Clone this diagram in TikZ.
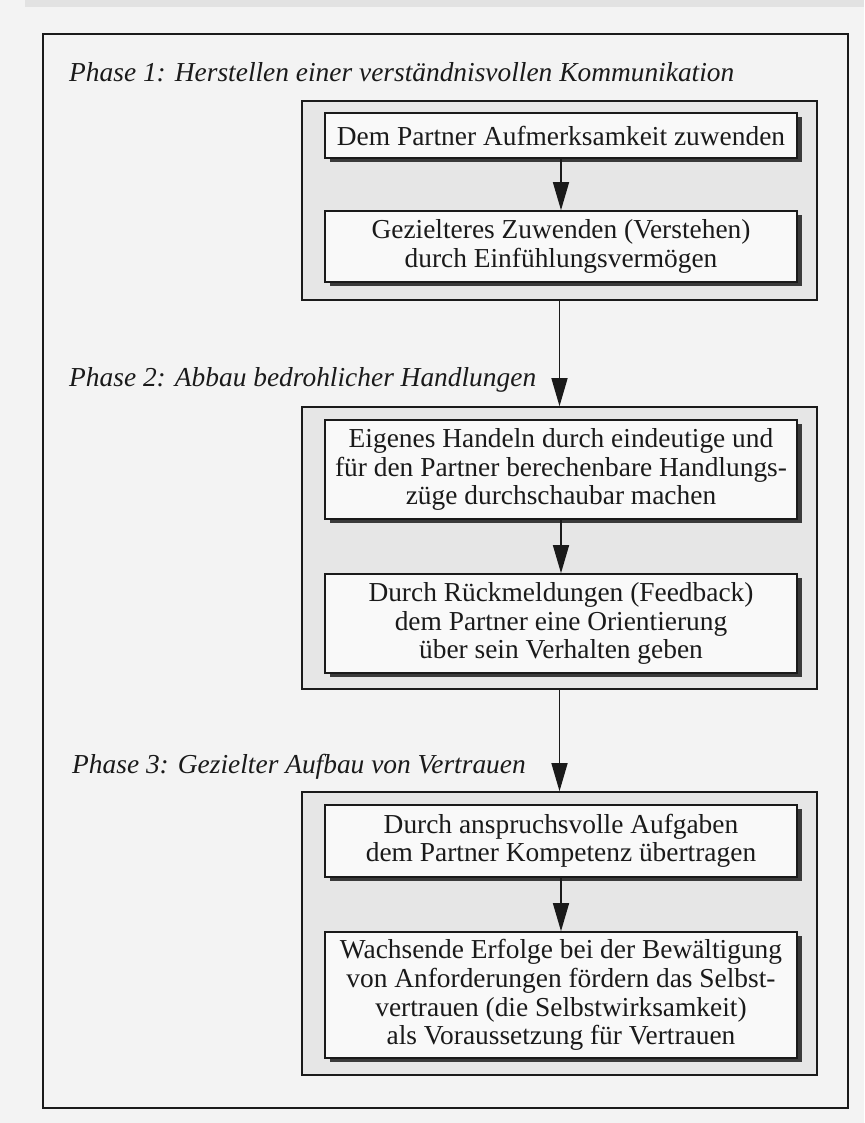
\documentclass[tikz,border=0pt]{standalone}
\usepackage{fontspec}
\setmainfont{Liberation Serif}
\usetikzlibrary{arrows.meta,shadows}
\definecolor{paper}{HTML}{F3F3F3}
\definecolor{grp}{HTML}{E6E6E6}
\definecolor{boxfill}{HTML}{F9F9F9}
\definecolor{ink}{HTML}{1A1A1A}
\definecolor{shade}{HTML}{3A3A3A}
\definecolor{scanedge}{HTML}{E2E2E2}
\begin{document}
\begin{tikzpicture}[x=1pt,y=-1pt,
  frame/.style={draw=ink,line width=1.8pt,minimum width=805pt,minimum height=1074pt,inner sep=0pt},
  group/.style={draw=ink,line width=1.6pt,fill=grp,minimum width=515pt,inner sep=0pt},
  stepbox/.style={draw=ink,line width=1.6pt,fill=boxfill,minimum width=472pt,inner sep=0pt,align=center,text=ink,
    font=\fontsize{27.4}{28.6}\selectfont,
    drop shadow={shadow xshift=5pt,shadow yshift=-4pt,fill=shade,opacity=1}},
  phase/.style={anchor=base west,inner sep=0pt,text=ink,font=\fontsize{27.4}{28.6}\selectfont\itshape},
  flow/.style={draw=ink,line width=1.4pt,-{Triangle[length=28pt,width=16pt]}}
]
\useasboundingbox (0,0) rectangle (864,1123);
\fill[paper] (0,0) rectangle (864,1123);
\fill[scanedge] (25,0) rectangle (864,7);

\node[frame] (outer) at (445.5,571) {};

\node[phase] (ph1) at (69,82) {Phase 1: Herstellen einer verständnisvollen Kommunikation};
\node[phase] (ph2) at (69,386) {Phase 2: Abbau bedrohlicher Handlungen};
\node[phase] (ph3) at (72,773) {Phase 3: Gezielter Aufbau von Vertrauen};

\node[group,minimum height=199pt] (g1) at (559.5,200.5) {};
\node[group,minimum height=282pt] (g2) at (559.5,548) {};
\node[group,minimum height=283pt] (g3) at (559.5,933.5) {};

\node[stepbox,minimum height=45pt] (b1) at (561,135.5) {Dem Partner Aufmerksamkeit zuwenden};
\node[stepbox,minimum height=71pt] (b2) at (561,246.5) {Gezielteres Zuwenden (Verstehen)\\durch Einfühlungsvermögen};
\node[stepbox,minimum height=99pt] (b3) at (561,469.5) {Eigenes Handeln durch eindeutige und\\für den Partner berechenbare Handlungs-\\züge durchschaubar machen};
\node[stepbox,minimum height=99pt] (b4) at (561,623.5) {Durch Rückmeldungen (Feedback)\\dem Partner eine Orientierung\\über sein Verhalten geben};
\node[stepbox,minimum height=72pt] (b5) at (561,841) {Durch anspruchsvolle Aufgaben\\dem Partner Kompetenz übertragen};
\node[stepbox,minimum height=126pt] (b6) at (561,995) {Wachsende Erfolge bei der Bewältigung\\von Anforderungen fördern das Selbst-\\vertrauen (die Selbstwirksamkeit)\\als Voraussetzung für Vertrauen};

\draw[flow] (b1.south) -- (b2.north);
\draw[flow] (g1.south) -- (g2.north);
\draw[flow] (b3.south) -- (b4.north);
\draw[flow] (g2.south) -- (g3.north);
\draw[flow] (b5.south) -- (b6.north);
\end{tikzpicture}
\end{document}
